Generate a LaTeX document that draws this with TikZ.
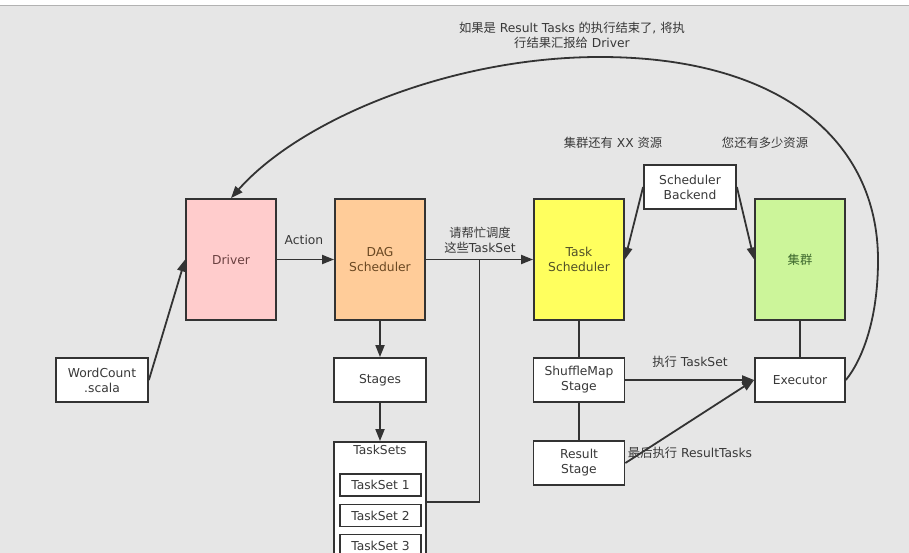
\documentclass[tikz,border=0pt]{standalone}
\usepackage{fontspec}
\setmainfont{DejaVu Sans}
\newfontfamily\cjk{Noto Sans CJK SC}
\usetikzlibrary{arrows.meta,calc}
\definecolor{bg}{HTML}{E6E6E6}
\definecolor{ln}{HTML}{333333}
\definecolor{txt}{HTML}{383838}
\definecolor{drvfill}{HTML}{FFCCCC}
\definecolor{dagfill}{HTML}{FFCC99}
\definecolor{tskfill}{HTML}{FFFF5E}
\definecolor{clfill}{HTML}{CCF59A}
\definecolor{drvtxt}{HTML}{6A4040}
\definecolor{dagtxt}{HTML}{6A4822}
\definecolor{tsktxt}{HTML}{505028}
\definecolor{cltxt}{HTML}{3B662C}
\tikzset{
  box/.style={draw=ln, line width=1.8pt, fill=white, text=txt, align=center,
    inner sep=0pt, font=\fontsize{12.3}{15}\selectfont},
  bigbox/.style={box, minimum width=90pt, minimum height=121pt},
  smallbox/.style={box, minimum width=91pt, minimum height=44pt},
  tsbox/.style={box, minimum width=81pt, minimum height=22pt},
  lbl/.style={text=txt, align=center, inner sep=0pt, font=\fontsize{12.3}{15}\selectfont},
  conn/.style={draw=ln, line width=1.8pt},
  arr/.style={conn, -{Triangle[length=12pt,width=9pt]}},
}
\begin{document}
\begin{tikzpicture}[x=1pt,y=-1pt]
\path[fill=bg] (0,0) rectangle (909,553);
\clip (0,0) rectangle (909,553);
\useasboundingbox (0,0) rectangle (909,553);
\fill[white] (0,0) rectangle (909,5);
\draw[color=gray!60, line width=1pt] (0,5.5) -- (909,5.5);

% big boxes
\node[bigbox, fill=drvfill, text=drvtxt] (driver) at (231,259.5) {Driver};
\node[bigbox, fill=dagfill, text=dagtxt] (dag) at (380,259.5) {DAG\\Scheduler};
\node[bigbox, fill=tskfill, text=tsktxt] (task) at (579,259.5) {Task\\Scheduler};
\node[bigbox, fill=clfill, text=cltxt] (cluster) at (800,259.5) {\cjk 集群};

% small boxes
\node[smallbox, minimum width=92pt] (sb) at (690,187) {Scheduler\\Backend};
\node[smallbox, minimum width=92pt] (wc) at (102,380) {WordCount\\.scala};
\node[smallbox, minimum width=92pt] (stages) at (380,380) {Stages};
\node[smallbox, minimum width=92pt, minimum height=120pt] (tsets) at (380,502) {};
\node[lbl] (tsetstitle) at (380,450) {TaskSets};
\node[tsbox] (ts1) at (380.5,485) {TaskSet 1};
\node[tsbox] (ts2) at (380.5,515.5) {TaskSet 2};
\node[tsbox] (ts3) at (380.5,545.5) {TaskSet 3};
\node[smallbox] (sm) at (579,380) {ShuffleMap\\Stage};
\node[smallbox] (rs) at (579,463) {Result\\Stage};
\node[smallbox, minimum width=90pt] (ex) at (800,380) {Executor};

% connectors
\draw[arr] (wc.east) -- (driver.west);
\draw[arr] (driver.east) -- (dag.west);
\draw[arr] (dag.east) -- (task.west);
\coordinate (jn) at ($(dag.east)!0.5!(task.west)$);
\draw[conn] (tsets.east) -| (jn);
\draw[arr] (dag.south) -- (stages.north);
\draw[arr] (stages.south) -- (tsets.north);
\draw[conn] (task.south) -- (sm.north);
\draw[conn] (sm.south) -- (rs.north);
\draw[conn] (cluster.south) -- (ex.north);
\draw[arr] (sb.west) -- (task.east);
\draw[arr] (sb.east) -- (cluster.west);
\draw[arr] (sm.east) -- (ex.west);
\draw[arr] (rs.east) -- (ex.west);
\draw[arr] (ex.east) .. controls (862,360) and (878,320) .. (878,260)
  .. controls (878,140) and (780,57) .. (600,57)
  .. controls (450,57) and (300,120) .. (driver.north);

% labels
\node[lbl] (lAction) at (304,240) {Action};
\node[lbl] (lAsk) at (480,240) {{\cjk 请帮忙调度}\\{\cjk 这些}TaskSet};
\node[lbl] (lRes) at (613,143) {{\cjk 集群还有} XX {\cjk 资源}};
\node[lbl] (lHow) at (765,143) {\cjk 您还有多少资源};
\node[lbl] (lTop) at (572,35) {{\cjk 如果是} Result Tasks {\cjk 的执行结束了}, {\cjk 将执}\\{\cjk 行结果汇报给} Driver};
\node[lbl] (lExec) at (690,362) {{\cjk 执行} TaskSet};
\node[lbl] (lLast) at (690,453) {{\cjk 最后执行} ResultTasks};
\end{tikzpicture}
\end{document}
